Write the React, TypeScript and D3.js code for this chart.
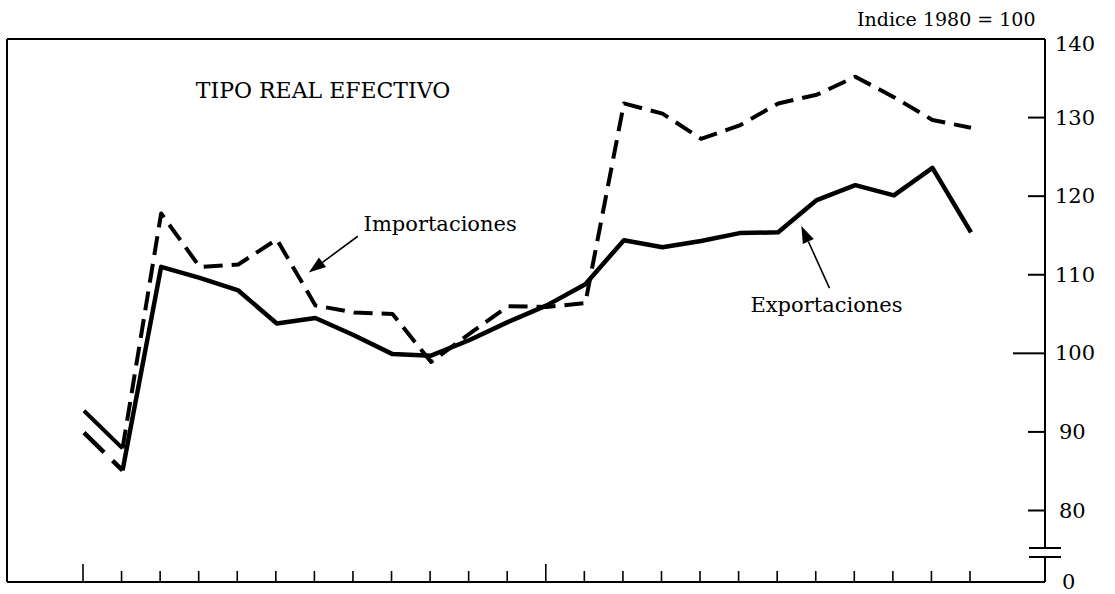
import React from 'react';
import * as d3 from 'd3';

const periodos = d3.range(24);
const marcasLargas = [0, 12];

const exportaciones = [
  89.9, 85.1, 111.0, 109.6, 108.0, 103.8, 104.5, 102.3, 99.9, 99.7, 101.7, 104.0,
  106.1, 108.8, 114.4, 113.5, 114.3, 115.3, 115.4, 119.5, 121.4, 120.1, 123.6, 115.4,
];
const importaciones = [
  92.7, 87.9, 117.8, 111.0, 111.3, 114.5, 106.1, 105.2, 105.0, 98.9, 102.5, 106.0,
  105.9, 106.4, 131.8, 130.5, 127.3, 129.0, 131.8, 132.9, 135.2, 132.6, 129.7, 128.7,
];
const yTicks = [140, 130, 120, 110, 100, 90, 80];

const W = 1115;
const H = 594;
const FRAME = { left: 7, top: 39, right: 1045, bottom: 582 };
const FONT = '"DejaVu Serif", "Liberation Serif", serif';

type Pt = [number, number];

function Arrow({ from, to }: { from: Pt; to: Pt }) {
  const ang = Math.atan2(to[1] - from[1], to[0] - from[0]);
  const len = 17;
  const half = 6;
  const bx = to[0] - len * Math.cos(ang);
  const by = to[1] - len * Math.sin(ang);
  const px = -Math.sin(ang) * half;
  const py = Math.cos(ang) * half;
  return (
    <g>
      <line x1={from[0]} y1={from[1]} x2={bx} y2={by} stroke="#000" strokeWidth={1.6} />
      <path d={`M${to[0]},${to[1]}L${bx + px},${by + py}L${bx - px},${by - py}Z`} fill="#000" />
    </g>
  );
}

export default function App() {
  const x = d3.scaleLinear().domain([0, 23]).range([84, 971]);
  const y = d3.scaleLinear().domain([80, 140]).range([510.5, FRAME.top]);

  const lineFrom = (vals: number[], start: number) =>
    d3.line<number>().x((_, i) => x(i + start)).y(d => y(d))(vals.slice(start)) ?? '';

  // primer tramo de exportaciones con un corte
  const e0: Pt = [x(0), y(exportaciones[0])];
  const e1: Pt = [x(1), y(exportaciones[1])];
  const eLen = Math.hypot(e1[0] - e0[0], e1[1] - e0[1]);

  const breakY1 = 548;
  const breakY2 = 557;

  return (
    <svg width={W} height={H} style={{ position: 'absolute', left: 0, top: 0, background: '#fff' }}>
      <rect width={W} height={H} fill="#fff" />
      {/* marco */}
      <g stroke="#000" strokeWidth={2} fill="none">
        <line x1={FRAME.left} y1={FRAME.top} x2={FRAME.right} y2={FRAME.top} />
        <line x1={FRAME.left} y1={FRAME.top} x2={FRAME.left} y2={FRAME.bottom} />
        <line x1={FRAME.left} y1={FRAME.bottom} x2={FRAME.right} y2={FRAME.bottom} />
        <line x1={FRAME.right} y1={FRAME.top} x2={FRAME.right} y2={breakY1} />
        <line x1={FRAME.right} y1={breakY2} x2={FRAME.right} y2={FRAME.bottom} />
        <line x1={1029} y1={breakY1} x2={1061} y2={breakY1} />
        <line x1={1029} y1={breakY2} x2={1061} y2={breakY2} />
      </g>

      {/* marcas eje x */}
      <g stroke="#000" strokeWidth={1.6}>
        {periodos.map(p => (
          <line
            key={p}
            x1={x(p) - 1}
            x2={x(p) - 1}
            y1={FRAME.bottom}
            y2={FRAME.bottom - (marcasLargas.includes(p) ? 18 : 11)}
          />
        ))}
      </g>

      {/* eje y derecho */}
      <g>
        {yTicks.map(t => (
          <g key={t}>
            {t < 140 && (
              <line
                x1={FRAME.right - (t === 100 ? 32 : 17)}
                x2={FRAME.right}
                y1={y(t)}
                y2={y(t)}
                stroke="#000"
                strokeWidth={2}
              />
            )}
            <text
              x={t >= 100 ? 1055 : 1059}
              y={y(t) + (t === 140 ? 5 : 0)}
              dominantBaseline="central"
              fontFamily={FONT}
              fontSize={21}
              fill="#000"
            >
              {t}
            </text>
          </g>
        ))}
        <text x={1062} y={FRAME.bottom} dominantBaseline="central" fontFamily={FONT} fontSize={21} fill="#000">
          0
        </text>
      </g>

      {/* series */}
      <g fill="none" stroke="#000" strokeLinejoin="round">
        <line
          x1={e0[0]}
          y1={e0[1]}
          x2={e1[0]}
          y2={e1[1]}
          strokeWidth={4.5}
          strokeDasharray={`${eLen * 0.52} ${eLen * 0.22} ${eLen}`}
        />
        <path d={lineFrom(exportaciones, 1)} strokeWidth={4.5} />
        <line
          x1={x(0)}
          y1={y(importaciones[0])}
          x2={x(1)}
          y2={y(importaciones[1])}
          strokeWidth={4}
        />
        <path d={lineFrom(importaciones, 1)} strokeWidth={4} strokeDasharray="19 9" />
      </g>

      {/* textos */}
      <text x={x(2.9)} y={98} fontFamily={FONT} fontSize={22} fill="#000">
        TIPO REAL EFECTIVO
      </text>
      <text x={x(7.25)} y={231} fontFamily={FONT} fontSize={21} fill="#000">
        Importaciones
      </text>
      <Arrow from={[x(7.1), y(114.9)]} to={[x(5.83), y(110.3)]} />
      <text x={x(17.28)} y={312} fontFamily={FONT} fontSize={21} fill="#000">
        Exportaciones
      </text>
      <Arrow from={[x(19.33), y(108.3)]} to={[x(18.6), y(116.2)]} />
      <text x={857} y={26} fontFamily={FONT} fontSize={19} fill="#000">
        Indice 1980 = 100
      </text>
    </svg>
  );
}
